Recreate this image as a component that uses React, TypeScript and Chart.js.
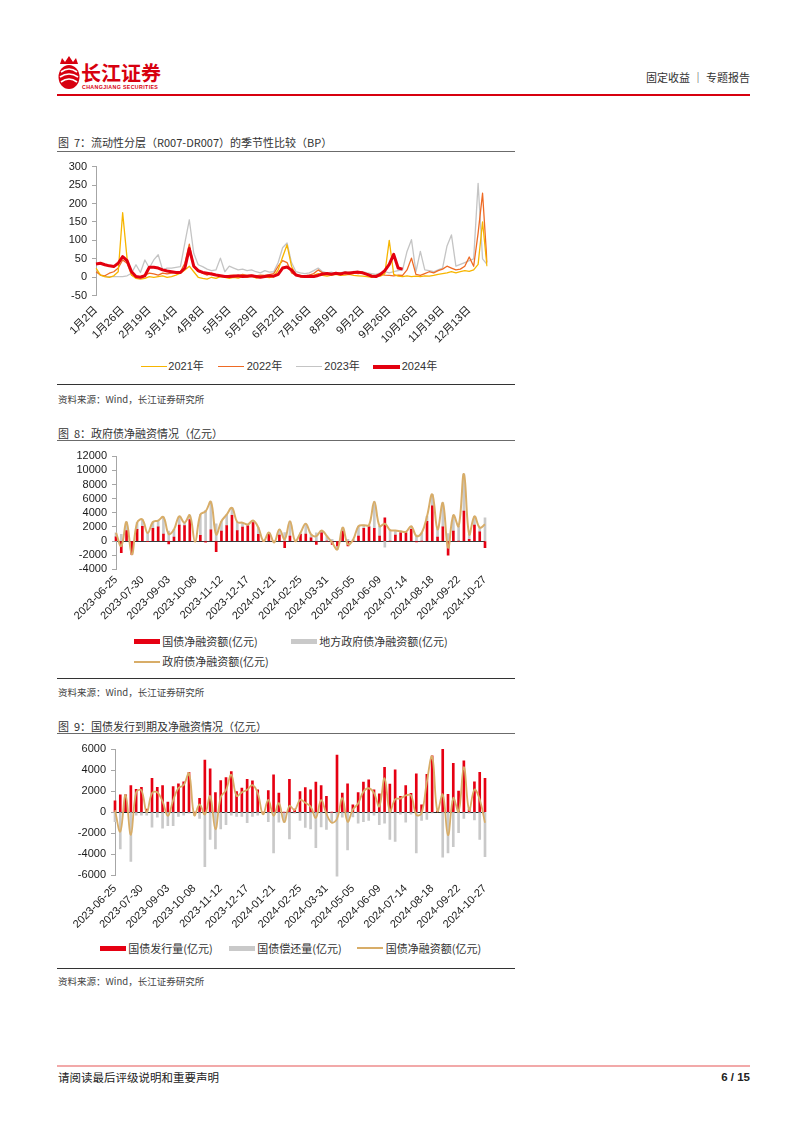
import React, { useEffect, useRef } from 'react';
import { Chart, registerables } from 'chart.js';

Chart.register(...registerables);

// ---------------- Chart 7 data (R007-DR007 seasonal, BP) ----------------
const CH1_TICKS = ['1月2日', '1月26日', '2月19日', '3月14日', '4月8日', '5月5日', '5月29日', '6月22日', '7月16日', '8月9日', '9月2日', '9月26日', '10月26日', '11月19日', '12月13日'];
const CH1_STEP = 6;
const Y2021 = [25, 6, 2, 0, 4, 15, 175, 50, 6, -3, -5, -3, 2, 0, 2, 4, 0, 2, 6, 11, 20, 30, 15, 0, -3, -5, 0, -3, 2, 0,
  -3, 0, -2, 2, 0, 3, -2, 0, 1, -1, 2, 20, 55, 88, 30, 5, 2, 0, 3, 5, 10, 5, 3, 6, 8, 5, 6, 8, 5, 4, 3, 2, 0, 4, 3, 10, 100, 8, 3, 2, 4, 2, 3, 2, 4, 3, 5, 8, 10, 12, 15, 12, 15, 18, 16, 20, 35, 150, 30];
const Y2022 = [15, 6, 4, 11, 15, 25, 47, 38, 6, 0, 2, 6, 11, 9, 6, 11, 9, 11, 13, 15, 38, 90, 29, 15, 11, 6, 11, 6, 4, 2,
  5, 6, 4, 8, 5, 6, 4, 6, 5, 7, 10, 30, 45, 40, 12, 6, 5, 4, 6, 10, 20, 12, 8, 10, 9, 12, 10, 14, 12, 10, 12, 9, 6, 5, 8, 6, 5, 4, 6, 5, 20, 52, 8, 5, 10, 15, 12, 18, 22, 30, 25, 20, 22, 30, 55, 30, 120, 228, 40];
const Y2023 = [20, 6, 2, 2, 2, 2, 2, 4, 11, 34, 13, 47, 25, 47, 61, 20, 25, 25, 27, 29, 93, 156, 65, 34, 29, 22, 18, 20, 52, 15,
  30, 25, 20, 22, 18, 20, 15, 12, 18, 14, 15, 40, 80, 93, 40, 15, 12, 10, 12, 18, 25, 15, 12, 14, 10, 12, 15, 13, 16, 12, 15, 12, 10, 8, 12, 15, 12, 15, 18, 20, 70, 102, 15, 70, 20, 18, 15, 20, 25, 85, 115, 30, 35, 40, 45, 50, 255, 50, 35];
const Y2024 = [36, 38, 34, 31, 29, 38, 56, 45, 15, 2, 0, 4, 27, 27, 25, 20, 17, 15, 13, 13, 25, 78, 30, 18, 13, 11, 9, 6, 4, 2,
  2, 3, 4, 2, 3, 4, 2, 0, 2, 4, 3, 8, 25, 28, 20, 6, 3, 2, 3, 2, 5, 9, 10, 8, 11, 9, 12, 11, 13, 14, 12, 8, 3, 2, 8, 18, 35, 62, 25, 22];
const CH1_LABELS = Y2021.map((_, i) => (i % CH1_STEP === 0 ? CH1_TICKS[i / CH1_STEP] || '' : ''));

// ---------------- Weekly categories (charts 8 & 9) ----------------
const WEEK_COUNT = 71;
const WEEK_TICK_EVERY = 5;
const WEEKS = Array.from({ length: WEEK_COUNT }, (_, i) => new Date(Date.UTC(2023, 5, 25 + 7 * i)).toISOString().slice(0, 10));

// ---------------- Chart 8 data (亿元) ----------------
const TB_NET = [600, -1650, 1500, -1900, 1650, 2100, -100, 1800, 2000, 1000,
  -400, 550, 2250, 2200, 3050, 0, 800, -150, 1600, -1500,
  1400, 2200, 3650, 1500, 1970, 2150, 2600, 950, 0, 940,
  0, 850, -950, 700, 0, 940, 1000, 470, -470, 1175,
  0, -470, -700, 1400, -700, 0, 700, 1800, 2000, 1800,
  700, 3300, 0, 850, 1175, 1175, 1650, -140, 0, 2800,
  5000, 550, 2000, -2000, 1400, 0, 4230, 235, 2250, 1300, -940];
const LG_NET = [575, 950, 1200, 0, 950, 950, 1250, 900, 900, 2400,
  1400, 1100, 1250, 400, 600, -100, 2950, 4350, 3950, 2450,
  1400, 1550, 1050, 1200, 630, 200, 300, 950, 0, 260,
  -200, 800, 1200, 2100, 0, 235, 1450, 480, 1170, 325,
  700, 240, -475, 500, 230, 230, 1400, 450, 250, 3750,
  1400, -850, 1550, 650, 225, 125, 450, 840, 1175, 700,
  1600, 1100, 3400, 1060, 2250, 2100, 5270, 705, 1250, 600, 3290];
const GOV_NET = [1175, -700, 2700, -1900, 2600, 3050, 1150, 2700, 2900, 3400,
  1000, 1650, 3500, 2600, 3650, -100, 3750, 4200, 5550, 950,
  2800, 3750, 4700, 2700, 2600, 2350, 2900, 1900, 0, 1200,
  -200, 1650, 250, 2800, 0, 1175, 2450, 950, 700, 1500,
  700, -230, -1175, 1900, -470, 230, 2100, 2250, 2250, 5550,
  2100, 2450, 1550, 1500, 1400, 1300, 2100, 700, 1175, 3500,
  6600, 1650, 5400, -940, 3650, 2100, 9500, 940, 3500, 1900, 2350];

// ---------------- Chart 9 data (亿元) ----------------
const TB_ISSUE = [1080, 1650, 1650, 2540, 2190, 2380, 300, 3240, 2380, 2540,
  950, 2440, 2700, 2890, 3800, 0, 1330, 4980, 4130, 1870,
  3020, 3300, 3870, 1970, 2290, 3140, 2980, 2130, 0, 2060,
  3560, 1810, 0, 3140, 300, 1970, 2350, 2130, 2860, 2540,
  1500, 0, 5460, 1810, 2700, 700, 1870, 2860, 3080, 2130,
  1750, 4290, 2670, 4030, 1500, 2540, 1800, 3650, 700, 3600,
  5370, 100, 6000, 1700, 4650, 2000, 4900, 300, 2900, 3800, 3240];
const TB_REPAY = [-900, -3500, 0, -4700, -300, -300, -300, -1430, -480, -1520,
  -1300, -1300, -400, -300, -100, -300, -600, -5200, -2600, -3500,
  -1600, -1200, -300, -400, -400, -1000, -400, -300, -200, -900,
  -3900, -950, -950, -2550, -100, -800, -1450, -1600, -3400, -1400,
  -1650, -1000, -6100, -480, -3600, -450, -1050, -900, -800, -300,
  -1200, -1050, -2600, -2800, -200, -950, -200, -3900, -800, -700,
  -70, 0, -4300, -3900, -3300, -1950, -600, -100, -750, -2600, -4250];
const TB_NET9 = [180, -1850, 1650, -2160, 1890, 2080, 0, 1810, 1900, 1020,
  -350, 1140, 2300, 2590, 3700, -300, 730, -220, 1530, -1630,
  1420, 2100, 3570, 1570, 1890, 2140, 2580, 1830, -200, 1160,
  -340, 860, -950, 590, 200, 1170, 900, 530, -540, 1140,
  -150, -1000, -640, 1330, -900, 250, 820, 1960, 2280, 1830,
  550, 3240, 70, 1230, 1300, 1590, 1600, -250, -100, 2900,
  5300, 100, 1700, -2200, 1350, 50, 4300, 200, 2150, 1200, -1010];

// ---------------- styles ----------------
const RED = '#e60012';
const GREY_BAR = '#c9c9c9';
const GOLD = '#d8ad68';
const C2021 = '#f7b500';
const C2022 = '#ee6a24';
const C2023 = '#c4c4c4';
const C2024 = '#e3000f';
const AXIS_GREY = '#a6a6a6';
const FONT_NUM = "'Liberation Sans', Arial, 'Noto Sans CJK SC', sans-serif";
const FONT_CJK = "'Noto Sans CJK SC', 'Liberation Sans', sans-serif";

function useChart(ref: React.RefObject<HTMLCanvasElement>, build: () => any) {
  useEffect(() => {
    if (!ref.current) return;
    const chart = new Chart(ref.current, build());
    return () => chart.destroy();
  }, []);
}

const tickFont = { family: FONT_NUM, size: 11 };

function yAxis(min: number, max: number, step: number, width: number, zeroLine: string | null) {
  return {
    min,
    max,
    stacked: true,
    ticks: { stepSize: step, autoSkip: false, color: '#1a1a1a', font: tickFont, padding: 5, callback: (v: any) => String(v) },
    grid: {
      drawOnChartArea: zeroLine !== null,
      drawTicks: true,
      tickLength: 4,
      tickColor: AXIS_GREY,
      color: (ctx: any) => (zeroLine && ctx.tick && ctx.tick.value === 0 ? zeroLine : 'rgba(0,0,0,0)'),
      lineWidth: 1,
    },
    border: { display: true, color: AXIS_GREY, width: 1 },
    afterFit: (s: any) => { s.width = width; },
  };
}

function xAxis(labelFor: (i: number) => string, height: number, padding: number) {
  return {
    type: 'category',
    offset: false,
    grid: { display: false, drawTicks: false, offset: false },
    border: { display: false },
    ticks: {
      autoSkip: false,
      minRotation: 45,
      maxRotation: 45,
      padding,
      color: '#1a1a1a',
      font: tickFont,
      callback: (_v: any, i: number) => labelFor(i),
    },
    afterFit: (s: any) => { s.height = height; },
  };
}

function Chart7() {
  const ref = useRef<HTMLCanvasElement>(null);
  useChart(ref, () => ({
    type: 'line',
    data: {
      labels: CH1_LABELS,
      datasets: [
        { label: '2021年', data: Y2021, borderColor: C2021, borderWidth: 1.3, pointRadius: 0, order: 1 },
        { label: '2022年', data: Y2022, borderColor: C2022, borderWidth: 1.3, pointRadius: 0, order: 2 },
        { label: '2023年', data: Y2023, borderColor: C2023, borderWidth: 1.3, pointRadius: 0, order: 3 },
        { label: '2024年', data: Y2024, borderColor: C2024, borderWidth: 3, pointRadius: 0, order: 0 },
      ],
    },
    options: {
      animation: false,
      responsive: false,
      events: [],
      layout: { padding: { top: 16.7, right: 28, left: 0, bottom: 0 } },
      plugins: { legend: { display: false }, tooltip: { enabled: false } },
      elements: { line: { borderJoinStyle: 'round', tension: 0 } },
      scales: {
        x: xAxis((i) => CH1_LABELS[i] || '', 59.3, 8),
        y: { ...yAxis(-50, 300, 50, 39, null), stacked: false },
      },
    },
  }));
  return <canvas ref={ref} width={458} height={205} style={{ position: 'absolute', left: 57, top: 150, width: 458, height: 205 }} />;
}

function Chart8() {
  const ref = useRef<HTMLCanvasElement>(null);
  useChart(ref, () => ({
    type: 'bar',
    data: {
      labels: WEEKS,
      datasets: [
        { type: 'line', label: '政府债净融资额(亿元)', data: GOV_NET, borderColor: GOLD, borderWidth: 2, pointRadius: 0, tension: 0.4, stack: 'line', order: 0, clip: 4 },
        { type: 'bar', label: '国债净融资额(亿元)', data: TB_NET, backgroundColor: RED, barThickness: 2, stack: 'bars', order: 1, clip: 3 },
        { type: 'bar', label: '地方政府债净融资额(亿元)', data: LG_NET, backgroundColor: GREY_BAR, barThickness: 2, stack: 'bars', order: 2, clip: 3 },
      ],
    },
    options: {
      animation: false,
      responsive: false,
      events: [],
      layout: { padding: { top: 14.3, right: 30, left: 0, bottom: 0 } },
      plugins: { legend: { display: false }, tooltip: { enabled: false } },
      scales: {
        x: xAxis((i) => (i % WEEK_TICK_EVERY === 0 ? WEEKS[i] : ''), 62.7, 4),
        y: yAxis(-4000, 12000, 2000, 59, '#3a3a3a'),
      },
    },
  }));
  return <canvas ref={ref} width={458} height={190} style={{ position: 'absolute', left: 57, top: 442, width: 458, height: 190 }} />;
}

function Chart9() {
  const ref = useRef<HTMLCanvasElement>(null);
  useChart(ref, () => ({
    type: 'bar',
    data: {
      labels: WEEKS,
      datasets: [
        { type: 'line', label: '国债净融资额(亿元)', data: TB_NET9, borderColor: GOLD, borderWidth: 1.8, pointRadius: 0, tension: 0.4, stack: 'line', order: 0, clip: 4 },
        { type: 'bar', label: '国债发行量(亿元)', data: TB_ISSUE, backgroundColor: RED, barThickness: 2, stack: 'bars', order: 1, clip: 3 },
        { type: 'bar', label: '国债偿还量(亿元)', data: TB_REPAY, backgroundColor: GREY_BAR, barThickness: 2, stack: 'bars', order: 2, clip: 3 },
      ],
    },
    options: {
      animation: false,
      responsive: false,
      events: [],
      layout: { padding: { top: 13.3, right: 30, left: 0, bottom: 0 } },
      plugins: { legend: { display: false }, tooltip: { enabled: false } },
      scales: {
        x: xAxis((i) => (i % WEEK_TICK_EVERY === 0 ? WEEKS[i] : ''), 61, 7),
        y: yAxis(-6000, 6000, 2000, 58, '#222222'),
      },
    },
  }));
  return <canvas ref={ref} width={458} height={200} style={{ position: 'absolute', left: 57, top: 736, width: 458, height: 200 }} />;
}

type TxtProps = { x?: number; right?: number; cy: number; size: number; color?: string; bold?: boolean; font?: string; children: React.ReactNode; spacing?: number };
function Txt({ x, right, cy, size, color = '#333', bold, font = FONT_CJK, children, spacing }: TxtProps) {
  const lh = size * 1.2;
  const style: React.CSSProperties = {
    position: 'absolute',
    top: cy - lh / 2,
    fontSize: size,
    lineHeight: `${lh}px`,
    color,
    fontFamily: font,
    fontWeight: bold ? 700 : 400,
    whiteSpace: 'pre',
    letterSpacing: spacing,
  };
  if (x !== undefined) style.left = x;
  if (right !== undefined) style.right = 802 - right;
  return <div style={style}>{children}</div>;
}

function Rect({ x, y, w, h, color }: { x: number; y: number; w: number; h: number; color: string }) {
  return <div style={{ position: 'absolute', left: x, top: y, width: w, height: h, background: color }} />;
}

function Swatch({ x, cy, w, h, color }: { x: number; cy: number; w: number; h: number; color: string }) {
  return <Rect x={x} y={cy - h / 2} w={w} h={h} color={color} />;
}

function Logo() {
  return (
    <>
      <svg width="26" height="36" viewBox="0 0 26 36" style={{ position: 'absolute', left: 56, top: 55 }}>
        <path d="M4 9 L6 3 L9 7 L13 1 L17 7 L20 3 L22 9 Z" fill="#d7000f" />
        <ellipse cx="13" cy="22" rx="10.5" ry="12" fill="#d7000f" />
        <path d="M5 17 Q13 11 21 17" stroke="#fff" strokeWidth="1.6" fill="none" />
        <path d="M4 22 Q13 16 22 22" stroke="#fff" strokeWidth="1.6" fill="none" />
        <path d="M5 27 Q13 21 21 27" stroke="#fff" strokeWidth="1.6" fill="none" />
      </svg>
      <Txt x={81} cy={72.5} size={20} color="#d7000f" bold>长江证券</Txt>
      <Txt x={82} cy={87.5} size={5.3} color="#d7000f" bold font={FONT_NUM} spacing={0.35}>CHANGJIANG SECURITIES</Txt>
    </>
  );
}

export default function App() {
  useEffect(() => {
    document.body.style.margin = '0';
    document.body.style.overflow = 'hidden';
  }, []);
  const src = '资料来源：Wind，长江证券研究所';
  return (
    <div style={{ position: 'absolute', left: 0, top: 0, width: 802, height: 1133, background: '#fff', overflow: 'hidden' }}>
      <Logo />
      <Txt right={750} cy={78} size={11} color="#333">固定收益 ｜ 专题报告</Txt>
      <Rect x={57} y={94} w={693} h={2} color="#d7000f" />

      {/* Chart 7 */}
      <Txt x={58} cy={143} size={11}>图  7：流动性分层（R007-DR007）的季节性比较（BP）</Txt>
      <Rect x={57} y={151} w={458} h={1} color="#6b6b6b" />
      <Chart7 />
      <Swatch x={141} cy={366.7} w={26} h={1.5} color={C2021} />
      <Txt x={168.3} cy={366.7} size={11} font={FONT_NUM}>2021年</Txt>
      <Swatch x={218} cy={366.7} w={26} h={1.5} color={C2022} />
      <Txt x={246.7} cy={366.7} size={11} font={FONT_NUM}>2022年</Txt>
      <Swatch x={296} cy={366.7} w={26} h={1.5} color={C2023} />
      <Txt x={324.3} cy={366.7} size={11} font={FONT_NUM}>2023年</Txt>
      <Swatch x={373} cy={366.7} w={27} h={4} color={C2024} />
      <Txt x={401.7} cy={366.7} size={11} font={FONT_NUM}>2024年</Txt>
      <Rect x={57} y={384} w={458} h={1} color="#333" />
      <Txt x={58} cy={400} size={9.5} color="#444">{src}</Txt>

      {/* Chart 8 */}
      <Txt x={58} cy={433.3} size={11}>图  8：政府债净融资情况（亿元）</Txt>
      <Rect x={57} y={440} w={458} h={1} color="#6b6b6b" />
      <Chart8 />
      <Swatch x={134} cy={641.7} w={26} h={5} color={RED} />
      <Txt x={162.3} cy={641.7} size={11}>国债净融资额(亿元)</Txt>
      <Swatch x={290.7} cy={641.7} w={26} h={5} color={GREY_BAR} />
      <Txt x={319.3} cy={641.7} size={11}>地方政府债净融资额(亿元)</Txt>
      <Swatch x={134} cy={661.7} w={26} h={2} color={GOLD} />
      <Txt x={162.3} cy={661.7} size={11}>政府债净融资额(亿元)</Txt>
      <Rect x={57} y={678} w={458} h={1} color="#333" />
      <Txt x={58} cy={692.5} size={9.5} color="#444">{src}</Txt>

      {/* Chart 9 */}
      <Txt x={58} cy={726.7} size={11}>图  9：国债发行到期及净融资情况（亿元）</Txt>
      <Rect x={57} y={733} w={458} h={1} color="#6b6b6b" />
      <Chart9 />
      <Swatch x={100} cy={948.3} w={26} h={5} color={RED} />
      <Txt x={128.3} cy={948.3} size={11}>国债发行量(亿元)</Txt>
      <Swatch x={229} cy={948.3} w={26} h={5} color={GREY_BAR} />
      <Txt x={257.3} cy={948.3} size={11}>国债偿还量(亿元)</Txt>
      <Swatch x={357} cy={948.3} w={26} h={2} color={GOLD} />
      <Txt x={385.7} cy={948.3} size={11}>国债净融资额(亿元)</Txt>
      <Rect x={57} y={968} w={458} h={1} color="#333" />
      <Txt x={58} cy={981.5} size={9.5} color="#444">{src}</Txt>

      {/* Footer */}
      <Rect x={57} y={1065} w={693} h={2} color="#f2a9a9" />
      <Txt x={58} cy={1077.5} size={11.5} color="#222">请阅读最后评级说明和重要声明</Txt>
      <Txt right={750} cy={1077.5} size={11.5} color="#222" bold font={FONT_NUM}>6 / 15</Txt>
    </div>
  );
}
